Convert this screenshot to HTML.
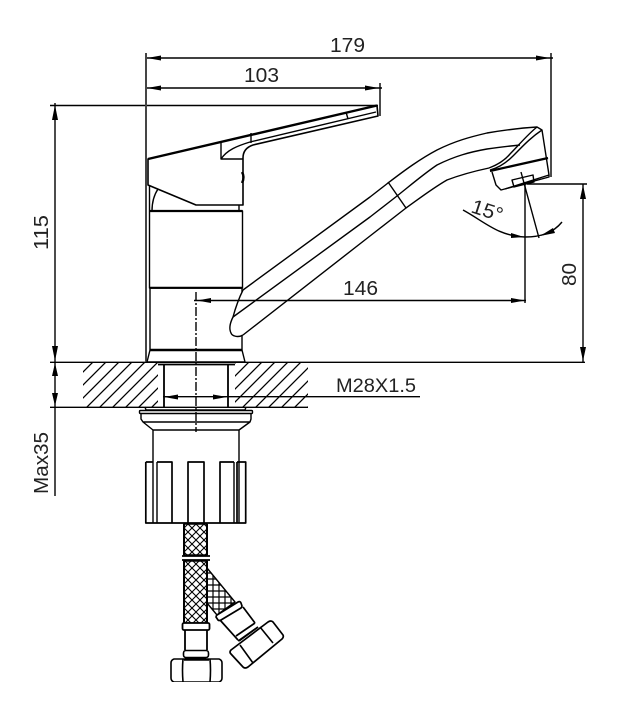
<!DOCTYPE html>
<html><head><meta charset="utf-8"><style>html,body{margin:0;padding:0;background:#fff}svg{display:block}</style></head>
<body>
<svg xmlns="http://www.w3.org/2000/svg" width="623" height="720" viewBox="0 0 623 720">
<defs>
<pattern id="h" width="13" height="13" patternUnits="userSpaceOnUse"><path d="M-1 14L14 -1M-1 1L1 -1M12 14L14 12" stroke="#000" stroke-width="1.300" fill="none"/></pattern>
<pattern id="x" width="8" height="8" patternUnits="userSpaceOnUse"><path d="M0 0L8 8M8 0L0 8" stroke="#000" stroke-width="1.100" fill="none"/></pattern>
<pattern id="g" width="6" height="6" patternUnits="userSpaceOnUse"><path d="M0 3H6M3 0V6" stroke="#000" stroke-width="1.200" fill="none"/></pattern>
<filter id="b" x="0" y="0" width="100%" height="100%"><feGaussianBlur stdDeviation="0.3"/></filter>
</defs>
<rect width="623" height="720" fill="#fff"/>
<g filter="url(#b)">
<!-- hatch -->
<rect x="83" y="363" width="75" height="44" fill="url(#h)"/>
<rect x="235" y="363" width="73" height="44" fill="url(#h)"/>
<rect x="164" y="365" width="64" height="42" fill="#fff"/>
<g fill="none" stroke="#000" stroke-width="1.400" stroke-linejoin="round">
<!-- dimension lines -->
<path d="M551 53V177M146 58H553M146 88H382M380 83V116M50 105.500H378M55 103V496M50 362.300H585M50 407.300H308M163 396.700H420M194 300.500H526M525 182V303M527 184H587M583 184V362"/>
<path d="M146 53V362" stroke-width="2" stroke="#444"/>
<path d="M196 292V432" stroke-dasharray="9 2 2 2"/>
<path d="M521 172L539 238"/>
<path d="M463 210C485 222 498 236 525 237C541 237 553 233 562 222"/>
<!-- handle -->
<path d="M148 159L377 105.500L378 116L253 145C247 147 243 151 243 158V205H196L148 185Z" stroke-width="1.600"/>
<path d="M148 159L377 105.500" stroke-width="2.400"/>
<path d="M221 143V159H243M221 159C227 150 237 146 250 142L376 112M251 143V133M346 112L348 119"/>
<path d="M242 172q3 5 0 11" stroke-width="2.400"/>
<path d="M158 189C154 195 152 203 152 211M239 205V211"/>
<!-- body -->
<path d="M149.500 185V211M149.500 211H242.500V288H149.500Z"/>
<path d="M149.500 211H242.500M149.500 287.800H242.500" stroke-width="2.200"/>
<path d="M150 288V350M242 288V292M242 336V350"/>
<path d="M150 350H242" stroke-width="2.600"/>
<path d="M150 350L147 362H245L242 350"/>
<!-- spout -->
<path d="M243 290L370 197L388 183C405 170 420 159 437 150C455 141 470 137 487 133C505 130 520 128 537 127L542 130L549 175V177L501 190L496 185L492 172"/>
<path d="M233 317L370 217L397 196C412 184 425 173 437 165C455 156 470 152 487 149C500 147 510 146 520 145"/>
<path d="M243 335L370 236L406 208C420 198 433 188 447 180C460 175 475 171 489 168"/>
<path d="M243 290C240 296 236 306 233 317C230 323 229 329 231 333C232 336 238 338 243 335"/>
<path d="M388 182L406 208"/>
<path d="M542 130C530 138 522 147 513 156C506 163 498 168 490 170M537 127C527 135 519 145 510 154C505 160 497 165 489 168"/>
<path d="M490 171L548 158" stroke-width="2.200"/>
<path d="M512 180L533 175L534 182L514 187Z M505 189L549 175"/>
<!-- under deck -->
<path d="M164 365V407M228 365V407M158 364.500H235" stroke-width="1.800"/>
<path d="M145 407L146 410H245L246 407"/>
<rect x="139.500" y="410.500" width="113" height="3" rx="1"/>
<path d="M141 413V419L143 422H250L251 419V413M143 422L153 430H239L250 422"/>
<path d="M153 430V523M239 430V523M157 462V523M234 462V523"/>
<path d="M145.800 462H153M157 462H172V523M188 523V462H204V523M220 523V462H234M237 462V523M237 462H245.700V523H145.800V462" stroke-width="1.700"/>
<!-- hoses -->
<rect x="184" y="524" width="23" height="31" fill="url(#x)"/>
<rect x="184" y="561" width="23" height="62" fill="url(#x)"/>
<path d="M184 524V555M207 524V555M184 561V623M207 561V623" stroke-width="2"/>
<path d="M182 556H210M182 560H210" stroke-width="1.700"/>
<path d="M207 568L235 602L217 615L207 603Z" fill="url(#g)"/>
<path d="M217 615L238 602Q240 601 241 603L242 606Q242 607 241 608L221 620Q219 621 218 620L216 617Q216 616 217 615Z" fill="#fff" stroke-width="1.700"/>
<path d="M220 620L238 640M243 607L255 623M236 636L255 623M239 641L258 627" stroke-width="1.700"/>
<rect x="182.500" y="623" width="27" height="7" rx="1.500" fill="#fff" stroke-width="1.800"/>
<path d="M185 630V650M207 630V650" stroke-width="1.800"/>
<rect x="183.500" y="650.500" width="25" height="7" rx="2.500" fill="#fff" stroke-width="1.600"/>
<path d="M185 658H206" stroke-width="2"/>
<path d="M184 659H174Q171 660 171 663V678Q171 681 174 682H219Q222 681 222 678V663Q222 660 219 659H209Z" stroke-width="1.600"/>
<path d="M183 659Q182 670 183 682M210 659Q211 670 210 682M184 660H209" stroke-width="1.600"/>
<path d="M231 650L268 622Q271 620 273 622L283 635Q284 637 282 639L248 667Q245 669 243 667L231 654Q229 652 231 650Z" stroke-width="1.700"/>
<path d="M240 645L253 663M260 627L273 643M238 641L258 627" stroke-width="1.600"/>
</g>
<!-- arrowheads -->
<g fill="#000">
<path d="M147 58L161 55.500V60.500Z"/>
<path d="M550 58L536 55.500V60.500Z"/>
<path d="M147 88L161 85.500V90.500Z"/>
<path d="M379 88L365 85.500V90.500Z"/>
<path d="M55 105L52 120H58Z"/>
<path d="M55 361L52 346H58Z"/>
<path d="M55 363L52 376H58Z"/>
<path d="M55 406L52 393H58Z"/>
<path d="M197 300.500L211 298V303Z"/>
<path d="M525 300.500L511 298V303Z"/>
<path d="M164 397L178 394.500V399.500Z"/>
<path d="M227 397L213 394.500V399.500Z"/>
<path d="M583 185L580 199H586Z"/>
<path d="M583 361L580 347H586Z"/>
<path d="M524 237L511 233L511 238Z"/>
<path d="M540 236L553 228L555 233Z"/>
</g>
<!-- labels -->
<g font-family="'Liberation Sans',sans-serif" font-size="20" fill="#222" stroke="none">
<text x="330" y="52" textLength="35" lengthAdjust="spacingAndGlyphs">179</text>
<text x="244" y="82" textLength="35" lengthAdjust="spacingAndGlyphs">103</text>
<text x="343" y="295" textLength="35" lengthAdjust="spacingAndGlyphs">146</text>
<text x="336" y="392" font-size="19" textLength="80" lengthAdjust="spacingAndGlyphs">M28X1.5</text>
<text transform="translate(48,250) rotate(-90)" textLength="35" lengthAdjust="spacingAndGlyphs">115</text>
<text transform="translate(576,286) rotate(-90)" textLength="23" lengthAdjust="spacingAndGlyphs">80</text>
<text transform="translate(48,494) rotate(-90)" textLength="62" lengthAdjust="spacingAndGlyphs">Max35</text>
<text transform="translate(470,212) rotate(18)" textLength="32" lengthAdjust="spacingAndGlyphs">15°</text>
</g>
</g>
</svg>
</body></html>
